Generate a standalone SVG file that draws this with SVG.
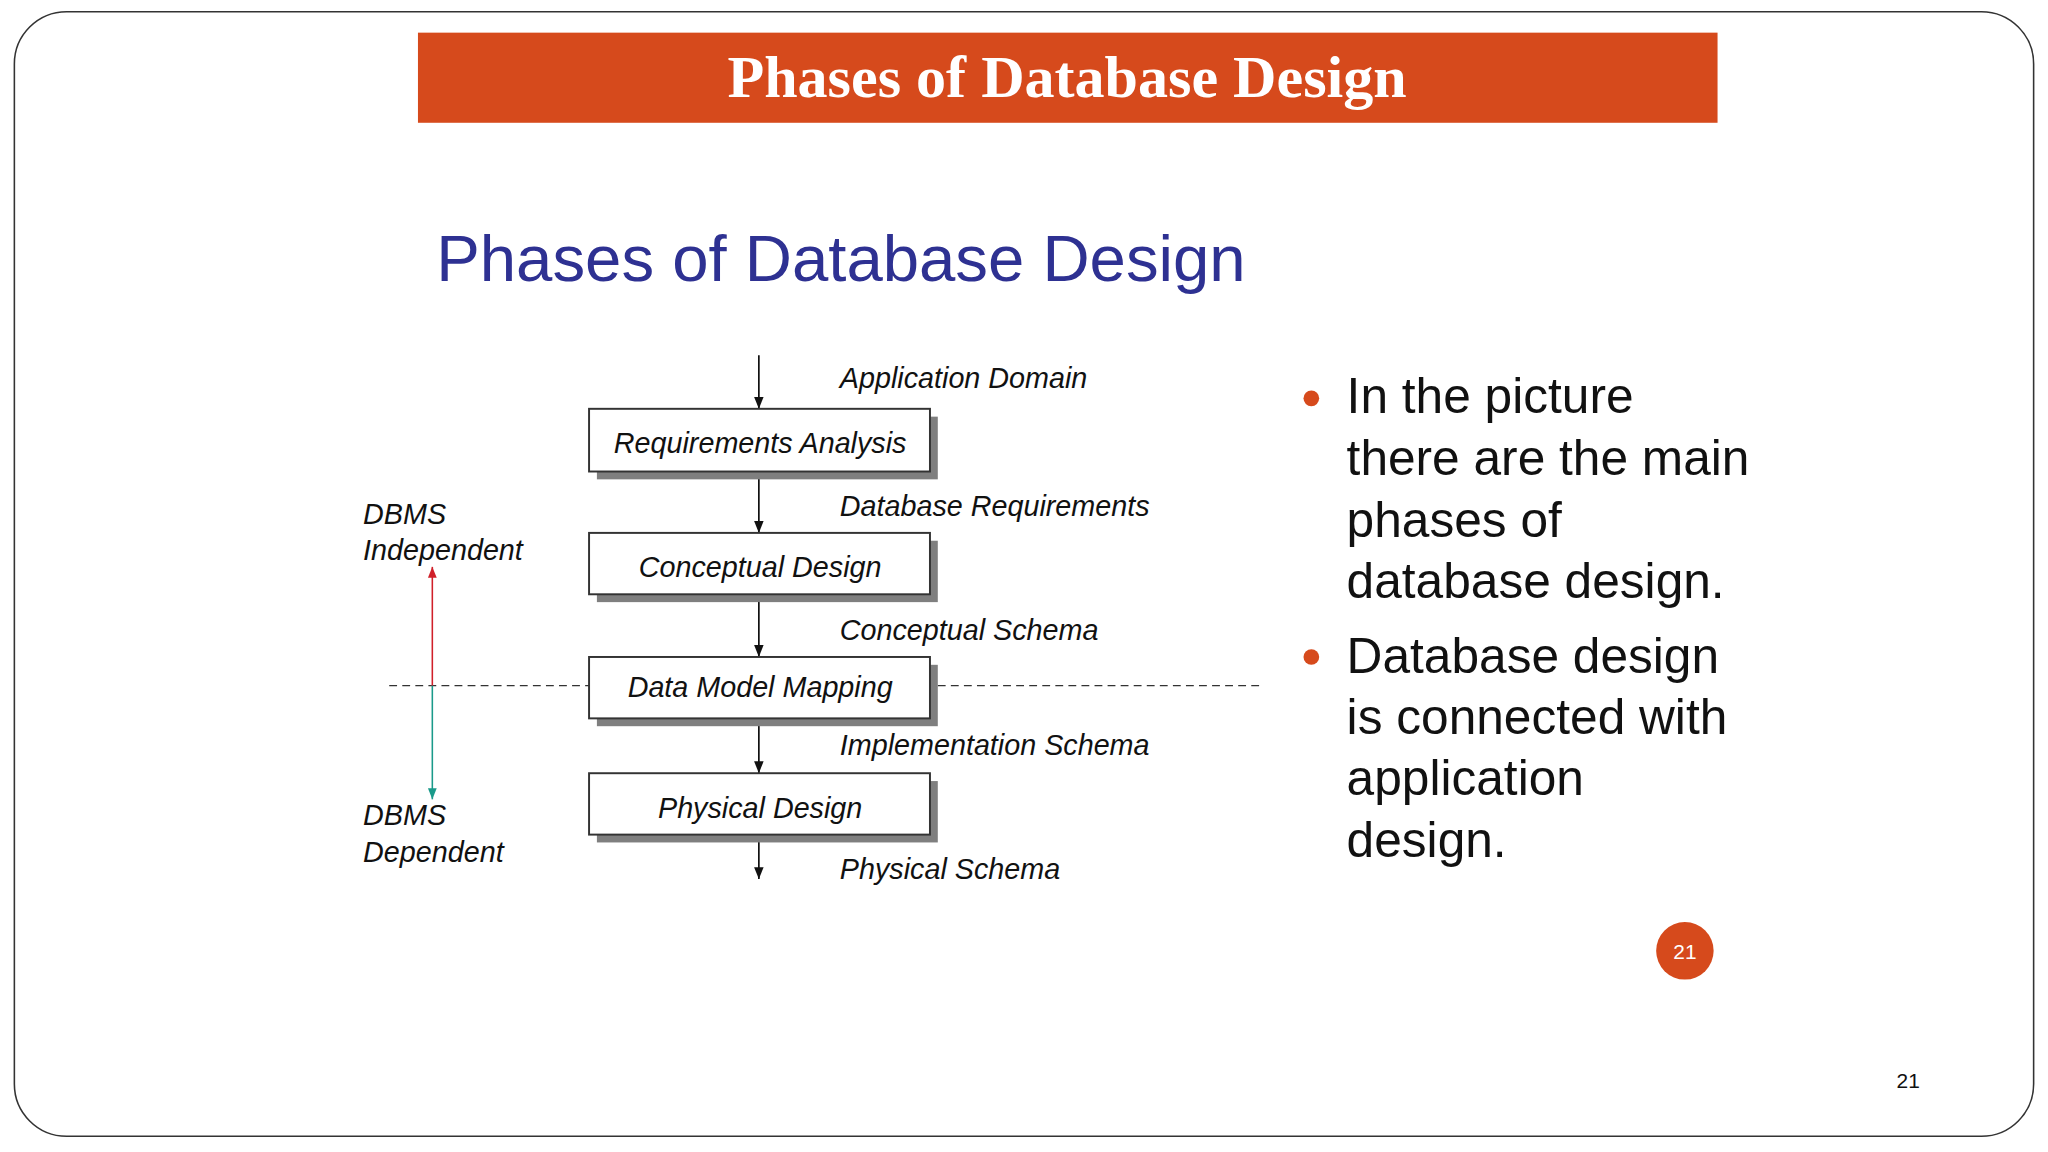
<svg xmlns="http://www.w3.org/2000/svg" width="2048" height="1152" viewBox="0 0 2048 1152">
<defs>
<style>
.lbl{font-family:"Liberation Sans",Arial,sans-serif;font-style:italic;font-size:22px;fill:#111}
.box{fill:#fff;stroke:#333;stroke-width:1.5}
.sh{fill:#7f7f7f}
.bt{font-family:"Liberation Sans",Arial,sans-serif;font-size:38px;fill:#111}
.ln{stroke:#111;stroke-width:1.3;fill:none}
</style>
<marker id="ah" viewBox="0 0 10 10" refX="10" refY="5" markerWidth="7" markerHeight="7" orient="auto"><path d="M0,1 L10,5 L0,9 z" fill="#111"/></marker>
<marker id="ar" viewBox="0 0 10 10" refX="10" refY="5" markerWidth="7" markerHeight="7" orient="auto"><path d="M0,1 L10,5 L0,9 z" fill="#d0202a"/></marker>
<marker id="at" viewBox="0 0 10 10" refX="10" refY="5" markerWidth="7" markerHeight="7" orient="auto"><path d="M0,1 L10,5 L0,9 z" fill="#1a9a8a"/></marker>
</defs>
<rect width="2048" height="1152" fill="#fff"/>
<g transform="scale(1.30612)">
<rect x="11" y="9" width="1546" height="861" rx="40" fill="#fff" stroke="#333" stroke-width="1.2"/>
<g id="title">
<rect x="320" y="25" width="995" height="69" fill="#d64a1c"/>
<text x="817" y="74" text-anchor="middle" font-family="Liberation Serif,serif" font-weight="bold" font-size="46" fill="#fff">Phases of Database Design</text>
</g>
<text x="334" y="215" font-family="Liberation Sans,Arial,sans-serif" font-size="50" fill="#2e3192">Phases of Database Design</text>
<g id="connectors">
<line class="ln" x1="581" y1="272" x2="581" y2="313" marker-end="url(#ah)"/>
<line class="ln" x1="581" y1="361" x2="581" y2="408" marker-end="url(#ah)"/>
<line class="ln" x1="581" y1="455" x2="581" y2="503" marker-end="url(#ah)"/>
<line class="ln" x1="581" y1="550" x2="581" y2="592" marker-end="url(#ah)"/>
<line class="ln" x1="581" y1="639" x2="581" y2="673" marker-end="url(#ah)"/>
<line x1="298" y1="525" x2="451" y2="525" stroke="#333" stroke-width="1" stroke-dasharray="6,4"/>
<line x1="718" y1="525" x2="966" y2="525" stroke="#333" stroke-width="1" stroke-dasharray="6,4"/>
<line x1="331" y1="525" x2="331" y2="434" stroke="#d0202a" stroke-width="1.2" marker-end="url(#ar)"/>
<line x1="331" y1="525" x2="331" y2="612" stroke="#1a9a8a" stroke-width="1.2" marker-end="url(#at)"/>
</g>
<g id="n1"><rect class="sh" x="457" y="319" width="261" height="48"/><rect class="box" x="451" y="313" width="261" height="48"/><text class="lbl" x="582" y="347" text-anchor="middle">Requirements Analysis</text></g>
<g id="n2"><rect class="sh" x="457" y="414" width="261" height="47"/><rect class="box" x="451" y="408" width="261" height="47"/><text class="lbl" x="582" y="442" text-anchor="middle">Conceptual Design</text></g>
<g id="n3"><rect class="sh" x="457" y="509" width="261" height="47"/><rect class="box" x="451" y="503" width="261" height="47"/><text class="lbl" x="582" y="534" text-anchor="middle">Data Model Mapping</text></g>
<g id="n4"><rect class="sh" x="457" y="598" width="261" height="47"/><rect class="box" x="451" y="592" width="261" height="47"/><text class="lbl" x="582" y="626" text-anchor="middle">Physical Design</text></g>
<text class="lbl" x="643" y="297">Application Domain</text>
<text class="lbl" x="643" y="395">Database Requirements</text>
<text class="lbl" x="643" y="490">Conceptual Schema</text>
<text class="lbl" x="643" y="578">Implementation Schema</text>
<text class="lbl" x="643" y="673">Physical Schema</text>
<text class="lbl" x="278" y="401">DBMS</text>
<text class="lbl" x="278" y="429">Independent</text>
<text class="lbl" x="278" y="632">DBMS</text>
<text class="lbl" x="278" y="660">Dependent</text>
<g id="bullets">
<circle cx="1004" cy="305" r="6" fill="#d64a1c"/>
<circle cx="1004" cy="503" r="6" fill="#d64a1c"/>
<text class="bt" x="1031" y="316">In the picture</text>
<text class="bt" x="1031" y="364">there are the main</text>
<text class="bt" x="1031" y="411">phases of</text>
<text class="bt" x="1031" y="458">database design.</text>
<text class="bt" x="1031" y="515">Database design</text>
<text class="bt" x="1031" y="562">is connected with</text>
<text class="bt" x="1031" y="609">application</text>
<text class="bt" x="1031" y="656">design.</text>
</g>
<circle cx="1290" cy="728" r="22" fill="#d64a1c"/>
<text x="1290" y="734" text-anchor="middle" font-family="Liberation Sans,Arial,sans-serif" font-size="16" fill="#fff">21</text>
<text x="1461" y="833" text-anchor="middle" font-family="Liberation Sans,Arial,sans-serif" font-size="16" fill="#111">21</text>
</g>
</svg>
